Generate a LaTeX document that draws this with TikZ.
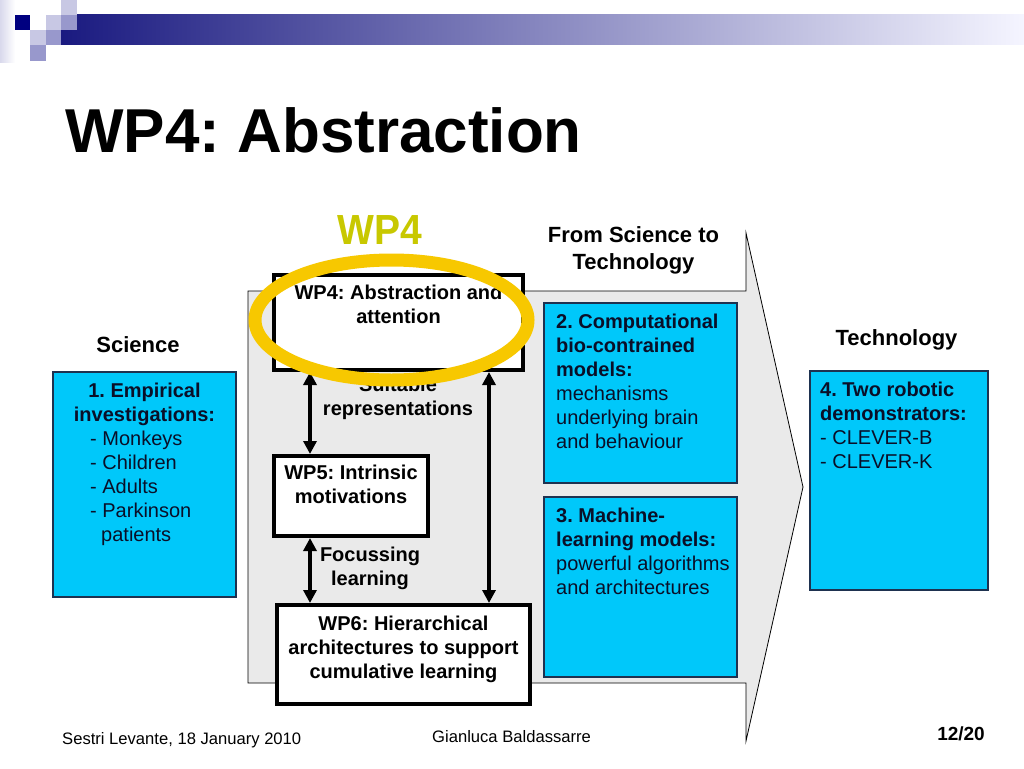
\documentclass[tikz,border=0pt]{standalone}
\usepackage{fontspec}
\setmainfont{Liberation Sans}
\frenchspacing
\usetikzlibrary{arrows.meta}
\definecolor{navy}{RGB}{0,0,128}
\definecolor{lavl}{RGB}{200,200,228}
\definecolor{lavm}{RGB}{152,152,204}
\definecolor{barleft}{RGB}{26,26,128}
\definecolor{cyanfill}{RGB}{0,200,250}
\definecolor{boxedge}{RGB}{30,50,80}
\definecolor{arrowgray}{RGB}{234,234,234}
\definecolor{ringyellow}{RGB}{247,200,0}
\definecolor{wpgreen}{RGB}{200,200,0}
\definecolor{boxtext}{RGB}{10,15,40}
\tikzset{
  wpbox/.style={draw=black, line width=4pt, fill=white, inner sep=0pt},
  cbox/.style={draw=boxedge, line width=1.2pt, fill=cyanfill, inner sep=0pt},
  dbl/.style={line width=3.5pt, {Triangle[width=13pt,length=13pt]}-{Triangle[width=13pt,length=13pt]}},
  txt/.style={font=\fontsize{20}{24}\selectfont, inner sep=0pt},
  head/.style={font=\fontsize{22}{27}\selectfont\bfseries, inner sep=0pt},
  foot/.style={font=\fontsize{16.6}{20}\selectfont, inner sep=0pt}
}
\begin{document}
\begin{tikzpicture}[x=1pt,y=-1pt]
\useasboundingbox (0,0) rectangle (1024,768);
\fill[white] (0,0) rectangle (1024,768);
% header decoration
\shade[left color=lavl!70, right color=white] (0,0) rectangle (15,62);
\shade[left color=barleft, right color=white!96!blue] (61,15) rectangle (1024,45);
\fill[navy] (15,15) rectangle (30,30);
\fill[lavl] (46,15) rectangle (61,30);
\fill[lavl] (61,0) rectangle (77,15);
\fill[lavm] (61,15) rectangle (77,30);
\fill[lavl] (30,30) rectangle (46,45);
\fill[lavm] (46,30) rectangle (61,45);
\fill[lavm] (30,45) rectangle (46,61);
% title
\node[anchor=base west, inner sep=0pt, font=\fontsize{62}{70}\selectfont\bfseries] (title) at (65,152) {WP4: Abstraction};
\node[anchor=base, inner sep=0pt, text=wpgreen, yscale=1.08, font=\fontsize{39}{44}\selectfont\bfseries] (wplabel) at (380,244) {WP4};
% big arrow
\draw[fill=arrowgray, draw=black, line width=0.8pt] (248,291) -- (746,291) -- (746,233) -- (803,487) -- (746,741) -- (746,683) -- (248,683) -- cycle;
\node[head, anchor=north, align=center] (fromsci) at (633.5,226.5) {From Science to\\Technology};
\node[head, anchor=base] (science) at (138,352) {Science};
\node[head, anchor=base] (technology) at (896.5,345) {Technology};
% cyan boxes
\node[cbox, minimum width=183pt, minimum height=225pt] (b1) at (144.5,484.5) {};
\node[cbox, minimum width=193pt, minimum height=180pt] (b2) at (640.5,393) {};
\node[cbox, minimum width=193pt, minimum height=180pt] (b3) at (640.5,587) {};
\node[cbox, minimum width=178pt, minimum height=219pt] (b4) at (899,480.5) {};
\node[txt, text=boxtext, anchor=north, align=center, font=\fontsize{20}{24}\selectfont\bfseries] (b1h) at (144.5,382.7) {1. Empirical\\investigations:};
\node[txt, text=boxtext, anchor=north west, align=left] (b1l) at (90,430.7) {- Monkeys\\- Children\\- Adults\\- Parkinson\\\hspace*{11pt}patients};
\node[txt, text=boxtext, anchor=north west, align=left] (b2t) at (556,313.7) {\textbf{2. Computational}\\\textbf{bio-contrained}\\\textbf{models:}\\mechanisms\\underlying brain\\and behaviour};
\node[txt, text=boxtext, anchor=north west, align=left] (b3t) at (556,507.7) {\textbf{3. Machine-}\\\textbf{learning models:}\\powerful algorithms\\and architectures};
\node[txt, text=boxtext, anchor=north west, align=left] (b4t) at (820,381.7) {\textbf{4. Two robotic}\\\textbf{demonstrators:}\\- CLEVER-B\\- CLEVER-K};
% WP boxes
\node[wpbox, minimum width=249pt, minimum height=95pt] (wp4) at (398.5,322.5) {};
\node[wpbox, minimum width=154pt, minimum height=80pt] (wp5) at (351,496) {};
\node[wpbox, minimum width=253pt, minimum height=99pt] (wp6) at (403.5,654.5) {};
\node[txt, anchor=north, align=center, font=\fontsize{20}{24}\selectfont\bfseries] (wp4t) at (398.5,284.7) {WP4: Abstraction and\\attention};
\node[txt, anchor=north, align=center, font=\fontsize{20}{24}\selectfont\bfseries] (wp5t) at (351,464.7) {WP5: Intrinsic\\motivations};
\node[txt, anchor=north, align=center, font=\fontsize{20}{24}\selectfont\bfseries] (wp6t) at (403.5,615.7) {WP6: Hierarchical\\architectures to support\\cumulative learning};
\node[txt, anchor=north, align=center, font=\fontsize{20}{24}\selectfont\bfseries] (suit) at (398,376.7) {Suitable\\representations};
\node[txt, anchor=north, align=center, font=\fontsize{20}{24}\selectfont\bfseries] (focus) at (370,546.7) {Focussing\\learning};
% connectors
\coordinate (xl) at (310,0);
\coordinate (xr) at (489,0);
\draw[dbl] (wp4.south -| xl) -- (wp5.north -| xl);
\draw[dbl] (wp5.south -| xl) -- (wp6.north -| xl);
\draw[dbl] (wp4.south -| xr) -- (wp6.north -| xr);
% highlight ring
\draw[ringyellow, line width=13pt] (391.5,320) ellipse [x radius=136.5, y radius=60];
% footer
\node[foot, anchor=base west] (date) at (62,744) {Sestri Levante, 18 January 2010};
\node[foot, anchor=base west] (author) at (432,742) {Gianluca Baldassarre};
\node[inner sep=0pt, anchor=base east, font=\fontsize{19}{22}\selectfont\bfseries] (page) at (985,740) {12/20};
\end{tikzpicture}
\end{document}
